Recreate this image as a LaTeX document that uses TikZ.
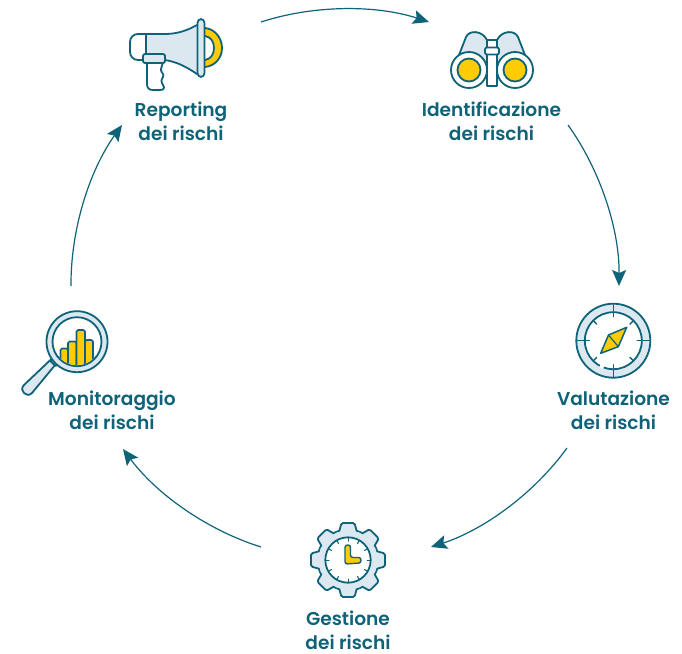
\documentclass[tikz,border=0pt]{standalone}
\usepackage{fontspec}
\setmainfont{Poppins}[UprightFont=* SemiBold]
\usetikzlibrary{arrows.meta}
\definecolor{tealc}{HTML}{0F6378}
\definecolor{lightc}{HTML}{DCE8F0}
\definecolor{yellowc}{HTML}{FFCB05}
\tikzset{
  ico/.style={draw=tealc,line width=1.8pt,line join=round,line cap=round},
  thin ico/.style={draw=tealc,line width=1.4pt,line cap=round},
  gapmark/.style={draw=white,line width=3pt},
  lab/.style={text=tealc,align=center,inner sep=0pt,font=\fontsize{18.6}{24}\selectfont},
  flow/.style={draw=tealc,line width=1.2pt,-{Stealth[length=16pt,width=14pt,inset=3pt]}},
}
\begin{document}
\begin{tikzpicture}[x=1pt,y=-1pt]
\useasboundingbox (0,0) rectangle (682,653);
% connector ends
\coordinate (a1) at (261,22);  \coordinate (b1) at (429,22);
\coordinate (a2) at (568,125); \coordinate (b2) at (619,286);
\coordinate (a3) at (567,448); \coordinate (b3) at (431,547);
\coordinate (a4) at (261,547); \coordinate (b4) at (123,449);
\coordinate (a5) at (71,286);  \coordinate (b5) at (122,125);
\draw[flow] (a1) to[bend left=18,looseness=.85] (b1);
\draw[flow] (a2) to[bend left=18,looseness=.85] (b2);
\draw[flow] (a3) to[bend left=18,looseness=.85] (b3);
\draw[flow] (a4) to[bend left=18,looseness=.85] (b4);
\draw[flow] (a5) to[bend left=18,looseness=.85] (b5);
% labels
\node[lab] (report) at (181,121) {Reporting\\dei rischi};
\node[lab] (ident) at (491.5,121) {Identificazione\\dei rischi};
\node[lab] (valut) at (613.5,410) {Valutazione\\dei rischi};
\node[lab] (gest) at (348,630) {Gestione\\dei rischi};
\node[lab] (monit) at (112,410) {Monitoraggio\\dei rischi};
% --- megaphone
\fill[yellowc] (205,28) .. controls (215,29) and (222,38) .. (222,48) .. controls (222,58) and (215,66) .. (205,67) -- cycle;
\draw[ico] (205,28) .. controls (215,29) and (222,38) .. (222,48) .. controls (222,58) and (215,66) .. (205,67);
\fill[white] (205,36) .. controls (211,37) and (214,42) .. (214,48) .. controls (214,54) and (211,59) .. (205,60) -- cycle;
\draw[ico] (205,36) .. controls (211,37) and (214,42) .. (214,48) .. controls (214,54) and (211,59) .. (205,60);
\draw[ico,fill=white,rounded corners=8pt] (146,34) -- (130,34) -- (130,60) -- (146,60);
\draw[ico,fill=white] (147,62) -- (147,84) .. controls (147,88) and (149,90) .. (153,90) -- (160,90) .. controls (164,90) and (165,88) .. (163,85) .. controls (161,82) and (161,80) .. (163,77) .. controls (165,74) and (160,72) .. (161,69) -- (163,62);
\fill[lightc] (146,35) -- (165,35) .. controls (178,35) and (188,30) .. (197,25) -- (197,75) .. controls (188,68) and (178,62) .. (165,59) -- (146,57) -- cycle;
\draw[ico] (146,34) -- (165,34) .. controls (178,34) and (188,30) .. (197,25);
\draw[ico] (165,60) .. controls (178,62) and (188,68) .. (197,74);
\draw[ico] (146,34) -- (146,54);
\draw[ico,fill=lightc,rounded corners=3.8pt] (197.5,19) rectangle (204.5,77);
\draw[ico,fill=lightc,rounded corners=2pt] (143,54) rectangle (165,63);
% --- binoculars
\draw[ico,fill=lightc] (459,55) -- (466,37) .. controls (469,30) and (482,30) .. (487,40) -- (487,70) -- (459,70) -- cycle;
\draw[ico,fill=lightc] (525,55) -- (518,37) .. controls (515,30) and (502,30) .. (497,40) -- (497,70) -- (525,70) -- cycle;
\fill[white] (457,52) -- (465,35) -- (462,30) -- (455,40) -- cycle;
\draw[ico,fill=white] (487,40) rectangle (497,86);
\draw[ico,fill=white,rounded corners=2pt] (485,47.5) rectangle (499,54.5);
\draw[ico,fill=white] (469,70) circle[radius=18];
\draw[ico,fill=white] (515,70) circle[radius=18];
\draw[ico,fill=yellowc] (469,70) circle[radius=11.5];
\draw[ico,fill=yellowc] (515,70) circle[radius=11.5];
% --- compass
\begin{scope}[shift={(613.3,340.7)}]
\draw[ico,fill=lightc] (0,0) circle[radius=37];
\draw[ico,fill=white] (0,0) circle[radius=28.5];
\draw[gapmark] (110:28.5) -- (118:28.5);
\foreach \a in {0,90,180,270}
  \draw[thin ico] (\a:36) -- (\a:24);
\foreach \a in {45,135,225,315}
  \draw[thin ico] (\a:28) -- (\a:23.5);
\end{scope}
\draw[ico,line width=1.5pt,fill=yellowc] (608.5,335) -- (626.7,327.3) -- (618.3,346.7) -- (600.7,353.3) -- cycle;
\draw[ico,line width=1.2pt] (608.5,335) -- (618.3,346.7);
% --- gear
\begin{scope}[shift={(348,560)}]
\draw[ico,fill=lightc] (0,0) circle[radius=30.5];
\foreach \a in {0,45,...,315}
  \draw[ico,fill=lightc,rotate=\a,rounded corners=1.5pt] (-9,-28) -- (-6.5,-37) -- (6.5,-37) -- (9,-28);
\fill[lightc] (0,0) circle[radius=29.5];
\draw[ico,fill=white] (0,0) circle[radius=22.7];
\foreach \a in {0,30,...,330}
  \draw[thin ico,line width=1pt] (\a:22) -- (\a:19);
\end{scope}
\draw[ico,line width=1.4pt,fill=yellowc,rounded corners=2.4pt] (345,545) -- (350.5,545) -- (350.5,557.5) -- (361,557.5) -- (361,563) -- (345,564) -- cycle;
% --- magnifier
\draw[ico,fill=lightc] (58,361.5) -- (53.5,357) -- (24,385) .. controls (21,388) and (22,391) .. (24,393) .. controls (26,395) and (29,396) .. (32,393) -- cycle;
\draw[ico,fill=white] (50.5,361) -- (55,357) -- (60,362) -- (55.5,366) -- cycle;
\draw[ico,fill=lightc] (77,341.7) circle[radius=30.5];
\draw[ico,fill=white] (77,341.7) circle[radius=24.5];
\begin{scope}
\clip (77,341.7) circle[radius=23.5];
\foreach \xa/\xb/\yt in {60.5/68/348.5,68/76.5/341.5,76.5/85/330,85/93/340}
  \draw[ico,line width=1.6pt,fill=yellowc,rounded corners=1.5pt] (\xa,372) -- (\xa,\yt) -- (\xb,\yt) -- (\xb,372);
\end{scope}
\end{tikzpicture}
\end{document}
